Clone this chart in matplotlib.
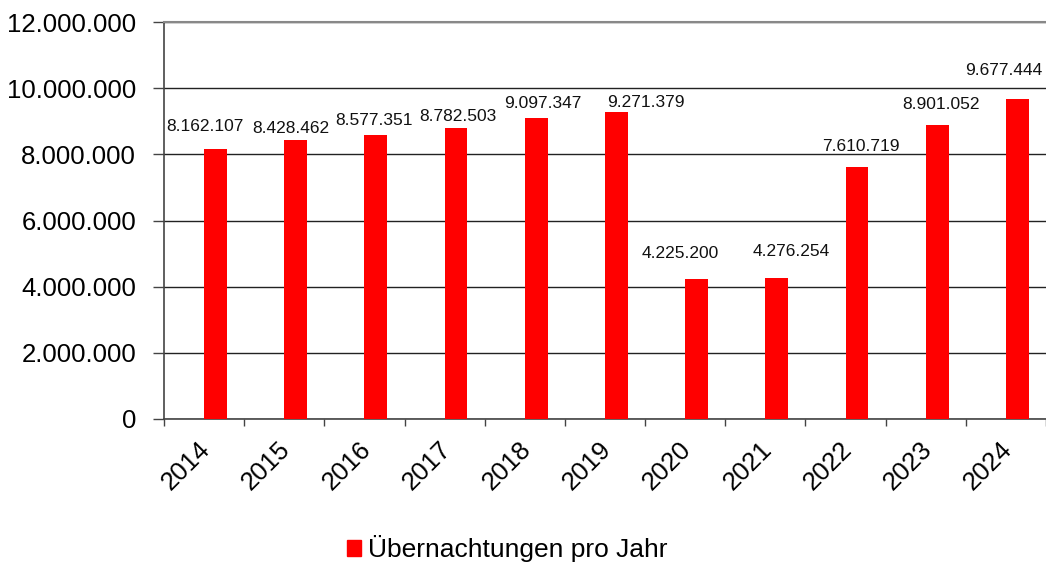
import numpy as np
import matplotlib.pyplot as plt
from matplotlib.patches import Patch
from matplotlib.ticker import FuncFormatter
from matplotlib.transforms import ScaledTranslation

plt.rcParams['font.family'] = ['Liberation Sans', 'DejaVu Sans']

#-- Data
years = ['2014', '2015', '2016', '2017', '2018', '2019',
         '2020', '2021', '2022', '2023', '2024']
stays = [8162107, 8428462, 8577351, 8782503, 9097347, 9271379,
         4225200, 4276254, 7610719, 8901052, 9677444]
series_name = 'Übernachtungen pro Jahr'

#-- label nudges (pixels from bar centre / bar top), hand placed like the original
label_dx = [-11, -5, -2, 2, 7, 29, -16, 14, 4, 4, -14]
label_dy = [22, 12, 15, 12, 15, 10, 26, 26, 21, 20, 28]

def de_num(v, pos=None):
    # german thousands separator
    return f'{int(v):,}'.replace(',', '.')

#-- Figure
fig = plt.figure(figsize=(10.46, 5.65), dpi=100)
ax = fig.add_axes([164/1046, 1-419/565, (1046-164)/1046, (419-22)/565])

x = np.arange(len(years))
bar_w = 0.285
ax.bar(x, stays, width=bar_w, align='edge', color='#ff0000', zorder=3)

px = 72/100  # pixel -> point
for xi, v, dx, dy in zip(x, stays, label_dx, label_dy):
    ax.annotate(de_num(v), (xi + bar_w/2, v), xytext=(dx*px, dy*px),
                textcoords='offset points', ha='center', va='center',
                fontsize=12.5, color='#111111')

ax.set_xlim(-0.5, len(years) - 0.5)
ax.set_ylim(0, 12000000)
ax.set_yticks(np.arange(0, 12000001, 2000000))
ax.yaxis.set_major_formatter(FuncFormatter(de_num))
ax.yaxis.grid(True, color='#222222', linewidth=1, zorder=0)

ax.set_xticks(x)
ax.set_xticklabels(years, rotation=45, ha='right', va='top',
                   rotation_mode='anchor', fontsize=18.5)
ax.set_xticks(np.arange(-0.5, len(years)), minor=True)
ax.tick_params(axis='x', which='major', length=0, pad=13)
ax.tick_params(axis='x', which='minor', length=5, width=1, color='#444444')
ax.tick_params(axis='y', length=8, width=1, color='#444444', pad=12, labelsize=18.5)
shift = ScaledTranslation(-6/100, 0, fig.dpi_scale_trans)
for lab in ax.get_xticklabels():
    lab.set_transform(lab.get_transform() + shift)

for side in ['left', 'bottom']:
    ax.spines[side].set_color('#444444')
    ax.spines[side].set_linewidth(1.2)
ax.spines['right'].set_visible(False)
ax.spines['top'].set_color('#888888')
ax.spines['top'].set_linewidth(1.5)

fig.legend(handles=[Patch(color='#ff0000', label=series_name)],
           loc='center', bbox_to_anchor=(507/1046, 1-549/565),
           frameon=False, fontsize=19, handlelength=0.55, handleheight=0.55,
           handletextpad=0.25)

fig.savefig('out.png', dpi=100)
